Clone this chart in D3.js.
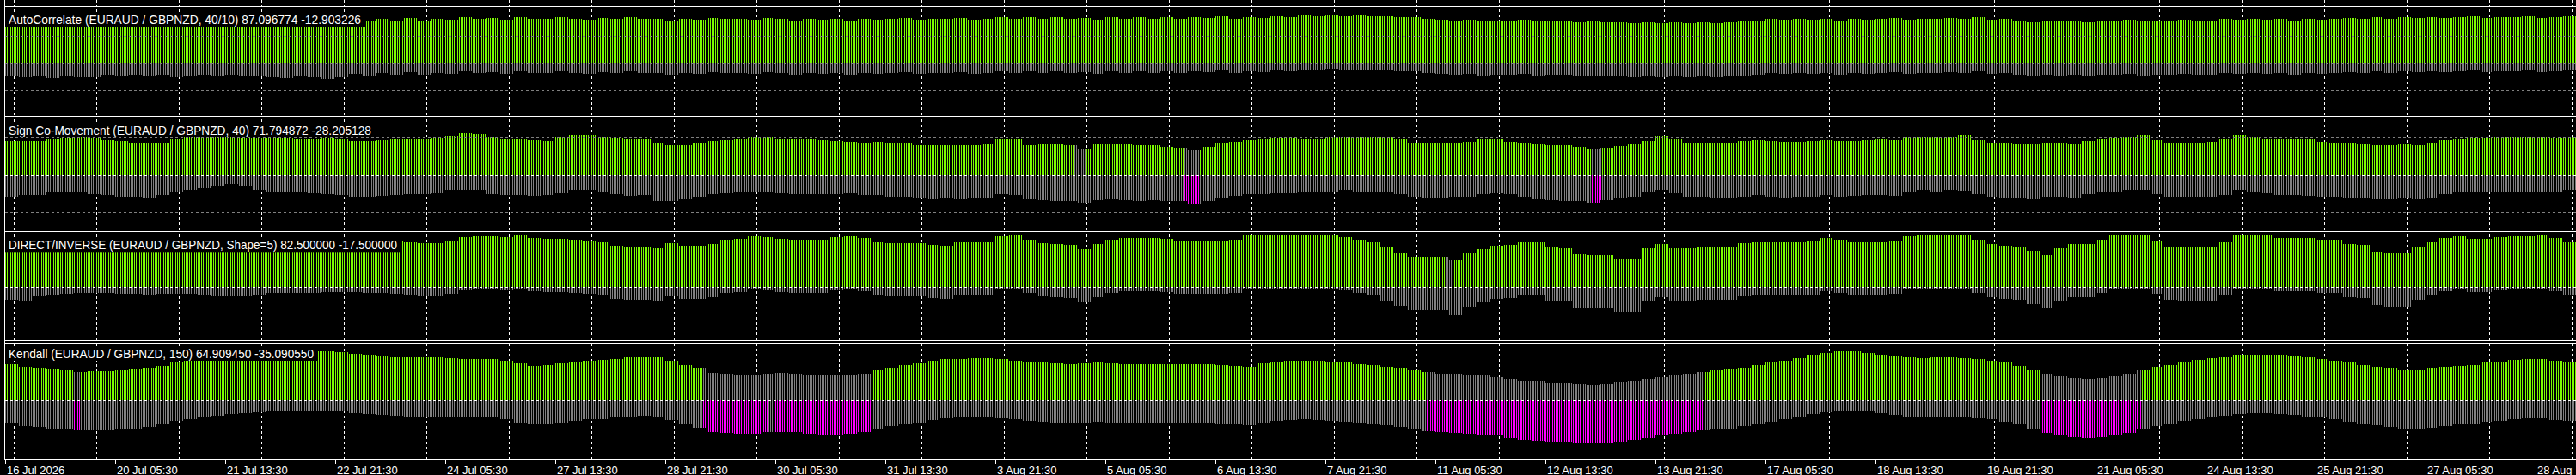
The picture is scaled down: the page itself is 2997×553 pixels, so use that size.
<!DOCTYPE html>
<html><head><meta charset="utf-8">
<script src="https://cdn.jsdelivr.net/npm/d3@7/dist/d3.min.js"></script>
<style>html,body{margin:0;padding:0;background:#000;overflow:hidden}svg{display:block}</style>
</head><body><svg id="c" width="2997" height="553"></svg>
<script>
// ---------- DATA (one value per 4-hour block = 8 M30 bars) ----------
const timeLabels = ["16 Jul 2026","20 Jul 05:30","21 Jul 13:30","22 Jul 21:30","24 Jul 05:30","27 Jul 13:30","28 Jul 21:30","30 Jul 05:30","31 Jul 13:30","3 Aug 21:30","5 Aug 05:30","6 Aug 13:30","7 Aug 21:30","11 Aug 05:30","12 Aug 13:30","13 Aug 21:30","17 Aug 05:30","18 Aug 13:30","19 Aug 21:30","21 Aug 05:30","24 Aug 13:30","25 Aug 21:30","27 Aug 05:30","28 Aug"];

const panelTitles = [
  "AutoCorrelate (EURAUD / GBPNZD, 40/10) 87.096774 -12.903226",
  "Sign Co-Movement (EURAUD / GBPNZD, 40) 71.794872 -28.205128",
  "DIRECT/INVERSE (EURAUD / GBPNZD, Shape=5) 82.500000 -17.500000",
  "Kendall (EURAUD / GBPNZD, 150) 64.909450 -35.090550"
];

// AutoCorrelate
const acPos = [76,73,75,72,76,74,73,78,75,79,76,78,74,77,79,75,78,76,77,74,72,75,73,71,74,80,77,82,79,83,78,82,80,84,81,83,80,84,82,81,84,82,80,83,81,84,82,
81,79,82,80,83,81,82,80,83,81,79,82,80,81,79,82,80,81,83,80,82,81,83,80,82,84,81,85,82,84,81,83,80,84,82,85,81,84,82,85,83,86,82,85,83,86,84,
88,86,89,87,88,86,87,85,84,82,80,78,80,77,79,78,80,77,79,78,76,77,75,76,74,75,73,76,74,75,73,75,77,79,81,80,82,80,81,79,82,80,81,83,80,82,81,
83,81,84,80,82,78,76,79,77,78,76,79,78,80,77,79,78,80,78,79,81,80,82,80,81,79,82,80,82,83,81,84,82,84,83,85,83,84,86,83,85,84,86,83,85,87];
const acNeg = [-24,-27,-25,-28,-24,-26,-27,-22,-25,-21,-24,-22,-26,-23,-21,-25,-22,-24,-23,-26,-28,-25,-27,-29,-26,-20,-23,-18,-21,-17,-22,-18,-20,-16,-19,-17,-20,-16,-18,-19,-16,-18,-20,-17,-19,-16,-18,
-19,-21,-18,-20,-17,-19,-18,-20,-17,-19,-21,-18,-20,-19,-21,-18,-20,-19,-17,-20,-18,-19,-17,-20,-18,-16,-19,-15,-18,-16,-19,-17,-20,-16,-18,-15,-19,-16,-18,-15,-17,-14,-18,-15,-17,-14,-16,
-12,-14,-11,-13,-12,-14,-13,-15,-16,-18,-20,-22,-20,-23,-21,-22,-20,-23,-21,-22,-24,-23,-25,-24,-26,-25,-27,-24,-26,-25,-27,-25,-23,-21,-19,-20,-18,-20,-19,-21,-18,-20,-19,-17,-20,-18,-19,
-17,-19,-16,-20,-18,-22,-24,-21,-23,-22,-24,-21,-22,-20,-23,-21,-22,-20,-22,-21,-19,-20,-18,-20,-19,-21,-18,-20,-18,-17,-19,-16,-18,-16,-17,-15,-17,-16,-14,-17,-15,-16,-14,-17,-15,-13];
const acStates = [];

// Sign Co-Movement
const scPos = [64,64,64,67,69,70,69,66,64,61,59,60,67,70,70,70,70,69,69,69,69,68,68,69,67,65,64,66,68,68,67,69,74,78,77,70,68,67,66,65,70,75,76,73,69,67,68,
61,57,56,60,64,66,68,72,72,68,67,67,66,64,63,61,62,61,60,57,56,56,56,56,58,67,67,57,58,58,56,50,58,58,58,57,56,53,52,47,53,59,62,66,68,69,69,
68,68,70,72,72,71,70,67,60,60,59,60,62,67,67,62,61,58,57,56,53,49,52,55,58,64,74,67,61,60,61,60,64,66,64,62,63,65,66,64,65,66,67,66,72,73,70,
73,75,66,61,60,58,58,61,61,58,64,68,69,73,76,66,61,60,60,62,67,76,70,68,68,68,67,62,61,60,58,57,57,58,57,59,66,68,69,69,70,70,71,70,69,72];
const scNeg = [-40,-38,-37,-33,-31,-32,-35,-38,-40,-41,-44,-38,-30,-28,-25,-19,-16,-19,-27,-31,-32,-31,-34,-35,-38,-40,-41,-39,-38,-36,-35,-34,-28,-27,-28,-35,-37,-38,-39,-38,-34,-28,-28,-32,-36,-39,-38,
-48,-48,-45,-40,-36,-34,-32,-30,-31,-34,-35,-35,-36,-35,-34,-38,-38,-40,-41,-44,-45,-44,-45,-44,-42,-35,-38,-45,-47,-48,-49,-52,-47,-45,-47,-48,-47,-48,-49,-55,-48,-42,-39,-36,-35,-34,-34,
-31,-31,-30,-28,-31,-32,-32,-35,-41,-42,-44,-41,-40,-36,-34,-36,-41,-45,-47,-48,-48,-52,-47,-44,-40,-32,-27,-34,-40,-41,-42,-44,-40,-38,-41,-42,-41,-40,-38,-40,-39,-38,-37,-39,-31,-28,-31,
-27,-29,-35,-40,-43,-44,-45,-40,-40,-44,-35,-31,-30,-28,-27,-36,-41,-41,-41,-40,-38,-27,-31,-34,-38,-38,-39,-40,-41,-42,-44,-45,-45,-44,-45,-42,-35,-33,-32,-32,-31,-32,-31,-32,-31,-28];
// state runs in bar indices: e = both gray (tie), n = negative dominates (gray / magenta)
const scStates = [[622,628,"e"],[686,694,"n"],[923,928,"n"]];

// DIRECT/INVERSE
const diPos = [76,73,82,83,87,88,88,89,87,87,83,86,87,86,85,82,81,81,83,89,89,89,89,90,90,90,89,89,86,83,82,82,87,93,94,94,93,96,91,90,90,88,86,83,77,75,75,
72,82,77,77,80,89,90,95,93,90,89,89,89,93,94,92,84,81,81,82,79,77,83,84,84,94,97,89,82,80,78,70,80,89,91,91,91,90,86,86,86,86,88,97,97,97,97,
97,97,97,93,88,84,74,64,56,56,56,50,63,70,77,78,84,84,74,72,61,60,60,53,52,72,80,72,72,76,76,76,82,83,83,83,83,85,92,88,83,83,83,86,94,96,96,
97,97,88,80,77,76,68,60,72,80,80,88,96,97,96,86,75,73,73,74,84,96,97,96,92,91,91,89,88,80,78,66,62,63,75,83,92,94,90,90,93,94,94,96,91,83];
const diNeg = [-24,-27,-18,-17,-13,-12,-12,-11,-13,-13,-17,-14,-13,-14,-15,-18,-19,-19,-17,-11,-11,-11,-11,-10,-10,-10,-11,-11,-14,-17,-18,-18,-13,-7,-6,-6,-7,-4,-9,-10,-10,-12,-14,-17,-23,-25,-25,
-28,-18,-23,-23,-20,-11,-10,-5,-7,-10,-11,-11,-11,-7,-6,-8,-16,-19,-19,-18,-21,-23,-17,-16,-16,-6,-3,-11,-18,-20,-22,-30,-20,-11,-9,-9,-9,-10,-14,-14,-14,-14,-12,-3,-3,-3,-3,
-3,-3,-3,-7,-12,-16,-26,-36,-44,-44,-44,-53,-37,-30,-23,-22,-16,-16,-26,-28,-39,-40,-40,-47,-48,-28,-20,-28,-28,-24,-24,-24,-18,-17,-17,-17,-17,-15,-8,-12,-17,-17,-17,-14,-6,-4,-4,
-3,-3,-12,-20,-23,-24,-32,-40,-28,-20,-20,-12,-4,-3,-4,-14,-25,-27,-27,-26,-16,-4,-3,-4,-8,-9,-9,-11,-12,-20,-22,-34,-38,-37,-25,-17,-8,-6,-10,-10,-7,-6,-6,-4,-9,-17];
const diStates = [[838,842,"e"]];

// Kendall
const kdPos = [61,57,55,53,52,49,50,50,51,53,55,59,65,69,72,74,77,79,80,81,83,83,83,83,82,79,77,75,74,73,73,73,72,71,71,71,68,63,59,60,63,65,68,69,71,73,74,
73,67,60,54,47,45,44,44,46,47,46,44,42,42,43,46,51,56,60,63,67,70,71,72,72,70,68,65,64,63,62,63,64,63,62,61,61,62,62,62,61,60,59,58,63,65,67,
68,67,65,64,62,60,58,55,52,48,46,45,44,42,40,37,34,32,30,29,28,27,28,31,33,37,40,43,46,49,52,53,56,60,64,68,72,77,80,83,83,81,78,75,73,72,73,
73,72,70,68,64,59,52,45,41,38,37,38,41,45,52,57,60,65,69,72,74,77,78,78,77,76,73,71,68,64,60,58,55,52,51,54,57,59,60,64,66,69,70,70,67,65];
const kdNeg = [-39,-43,-45,-47,-48,-51,-50,-50,-49,-47,-45,-41,-35,-31,-28,-26,-23,-21,-20,-19,-17,-17,-17,-17,-18,-21,-23,-25,-26,-27,-27,-27,-28,-29,-29,-29,-32,-37,-41,-40,-37,-35,-32,-31,-29,-27,-26,
-27,-33,-40,-46,-53,-55,-56,-56,-54,-53,-54,-56,-58,-58,-57,-54,-49,-44,-40,-37,-33,-30,-29,-28,-28,-30,-32,-35,-36,-37,-38,-37,-36,-37,-38,-39,-39,-38,-38,-38,-39,-40,-41,-42,-37,-35,-33,
-32,-33,-35,-36,-38,-40,-42,-45,-48,-52,-54,-55,-56,-58,-60,-63,-66,-68,-70,-71,-72,-73,-72,-69,-67,-63,-60,-57,-54,-51,-48,-47,-44,-40,-36,-32,-28,-23,-20,-17,-17,-19,-22,-25,-27,-28,-27,
-27,-28,-30,-32,-36,-41,-48,-55,-59,-62,-63,-62,-59,-55,-48,-43,-40,-35,-31,-28,-26,-23,-22,-22,-23,-24,-27,-29,-32,-36,-40,-42,-45,-48,-49,-46,-43,-41,-40,-36,-34,-31,-30,-30,-33,-35];
const kdStates = [[40,43,"n"],[406,443,"n"],[444,446,"e"],[447,504,"n"],[827,988,"n"],[1184,1242,"n"]];

// ---------- LAYOUT / STYLE ----------
const W = 2997, H = 553;
const BARS_PER_BLOCK = 8, BAR_STEP = 2;
const nBlocks = acPos.length;
const nBars = nBlocks * BARS_PER_BLOCK;
const COL = {green:"#7CFC00", gray:"#808080", mag:"#FF00FF", white:"#FFFFFF", level:"#808080"};
const FONT = "'Liberation Sans', Arial, Helvetica, sans-serif";

const x = d3.scaleLinear().domain([0, nBars]).range([6, 6 + BAR_STEP * nBars]);

const panels = [
  {pos:acPos, neg:acNeg, states:acStates, top:11, bottom:135, zero:73.4, ppu:0.63,  levels:[50,0,-50], zeroWhite:false, tw:410},
  {pos:scPos, neg:scNeg, states:scStates, top:139, bottom:269, zero:203.9, ppu:0.621, levels:[70,-70], zeroWhite:true, tw:422},
  {pos:diPos, neg:diNeg, states:diStates, top:273, bottom:396, zero:333.7, ppu:0.62, levels:[], zeroWhite:true, tw:452},
  {pos:kdPos, neg:kdNeg, states:kdStates, top:400, bottom:534, zero:466.3, ppu:0.686, levels:[], zeroWhite:true, tw:355}
];
const titleBase = [28.3, 157, 290.3, 417];

const svg = d3.select("#c").attr("width", W).attr("height", H);
svg.append("rect").attr("width", W).attr("height", H).attr("fill", "#000");
const defs = svg.append("defs");

const gridBars = d3.range(5, nBars, 48);
function vgrid(g, y1, y2) {
  g.selectAll("line.vg").data(gridBars).join("line").attr("class","vg")
    .attr("x1", d => Math.round(x(d)) + 0.5).attr("x2", d => Math.round(x(d)) + 0.5)
    .attr("y1", y1).attr("y2", y2)
    .attr("stroke", COL.white).attr("stroke-width",1).attr("stroke-dasharray","3,3")
    .attr("shape-rendering","crispEdges");
}
vgrid(svg.append("g"), 0, 7);

function stateOfBar(states, i) {
  for (const [a,b,s] of states) if (i >= a && i <= b) return s;
  return "g";
}
// split each 4h block into runs of bars sharing the same colour state
function blockRuns(P) {
  const runs = [];
  P.pos.forEach((v, j) => {
    let cur = null;
    for (let k = 0; k < BARS_PER_BLOCK; k++) {
      const i = j * BARS_PER_BLOCK + k;
      const s = stateOfBar(P.states, i);
      if (!cur || cur.s !== s) { cur = {j, s, bars: []}; runs.push(cur); }
      cur.bars.push(i);
    }
  });
  return runs;
}
function barsPath(bars, yA, yB) {
  const t = Math.min(yA, yB), b = Math.max(yA, yB);
  if (b - t < 1) return "";
  let d = "";
  for (const i of bars) {
    const bx = Math.round(x(i));
    d += `M${bx},${t}H${bx + 1}V${b}H${bx}Z`;
  }
  return d;
}

panels.forEach((P, pi) => {
  const y = d3.scaleLinear().domain([-100, 100]).range([P.zero + 100*P.ppu, P.zero - 100*P.ppu]);
  const clipId = "clip" + pi;
  defs.append("clipPath").attr("id", clipId).append("rect")
    .attr("x", 6).attr("y", P.top).attr("width", W - 6).attr("height", P.bottom - P.top);
  const g = svg.append("g").attr("clip-path", `url(#${clipId})`);
  vgrid(g, P.top, P.bottom);

  const y0 = Math.round(y(0));
  const runs = blockRuns(P);
  g.selectAll("path.pos").data(runs).join("path").attr("class","pos")
    .attr("d", r => barsPath(r.bars, Math.round(y(P.pos[r.j])), y0))
    .attr("fill", r => r.s === "g" ? COL.green : COL.gray)
    .attr("shape-rendering","crispEdges");
  g.selectAll("path.neg").data(runs).join("path").attr("class","neg")
    .attr("d", r => barsPath(r.bars, y0, Math.round(y(P.neg[r.j]))))
    .attr("fill", r => r.s === "n" ? COL.mag : COL.gray)
    .attr("shape-rendering","crispEdges");

  g.selectAll("line.lv").data(P.levels).join("line").attr("class","lv")
    .attr("x1", 6).attr("x2", W)
    .attr("y1", d => Math.round(y(d)) + 0.5).attr("y2", d => Math.round(y(d)) + 0.5)
    .attr("stroke", COL.level).attr("stroke-dasharray","3,3").attr("shape-rendering","crispEdges");
  if (P.zeroWhite) {
    g.append("line").attr("x1", 6).attr("x2", W).attr("y1", y0 + 0.5).attr("y2", y0 + 0.5)
      .attr("stroke", COL.white).attr("stroke-dasharray","3,3").attr("shape-rendering","crispEdges");
  }

  const tb = titleBase[pi];
  svg.append("rect").attr("x", 6).attr("y", tb - 14).attr("width", 10 + P.tw + 5 - 6).attr("height", 17).attr("fill", "#000");
  svg.append("text").attr("x", 10).attr("y", tb).text(panelTitles[pi])
    .attr("fill", COL.white).attr("font-family", FONT).attr("font-size", 15)
    .attr("textLength", P.tw).attr("lengthAdjust", "spacingAndGlyphs");
});

// frame lines
const frameY = [7.5, 10.5, 135.5, 138.5, 269.5, 272.5, 396.5, 399.5, 534.5];
svg.selectAll("line.fr").data(frameY).join("line").attr("class","fr")
  .attr("x1", 5.5).attr("x2", W).attr("y1", d => d).attr("y2", d => d)
  .attr("stroke", COL.white).attr("shape-rendering","crispEdges");
svg.append("line").attr("x1", 5.5).attr("x2", 5.5).attr("y1", 0).attr("y2", 534.5)
  .attr("stroke", COL.white).attr("shape-rendering","crispEdges");

// time axis
const tickBars = timeLabels.map((_, k) => k * 64);
const ax = svg.append("g");
ax.selectAll("line").data(tickBars).join("line")
  .attr("x1", d => x(d) + 0.5).attr("x2", d => x(d) + 0.5).attr("y1", 534.5).attr("y2", 539.5)
  .attr("stroke", COL.white).attr("shape-rendering","crispEdges");
ax.selectAll("text").data(timeLabels).join("text")
  .attr("x", (d, k) => x(tickBars[k]) + 2).attr("y", 551.5)
  .text(d => d).attr("fill", COL.white).attr("font-family", FONT).attr("font-size", 13);
</script>
</body></html>
